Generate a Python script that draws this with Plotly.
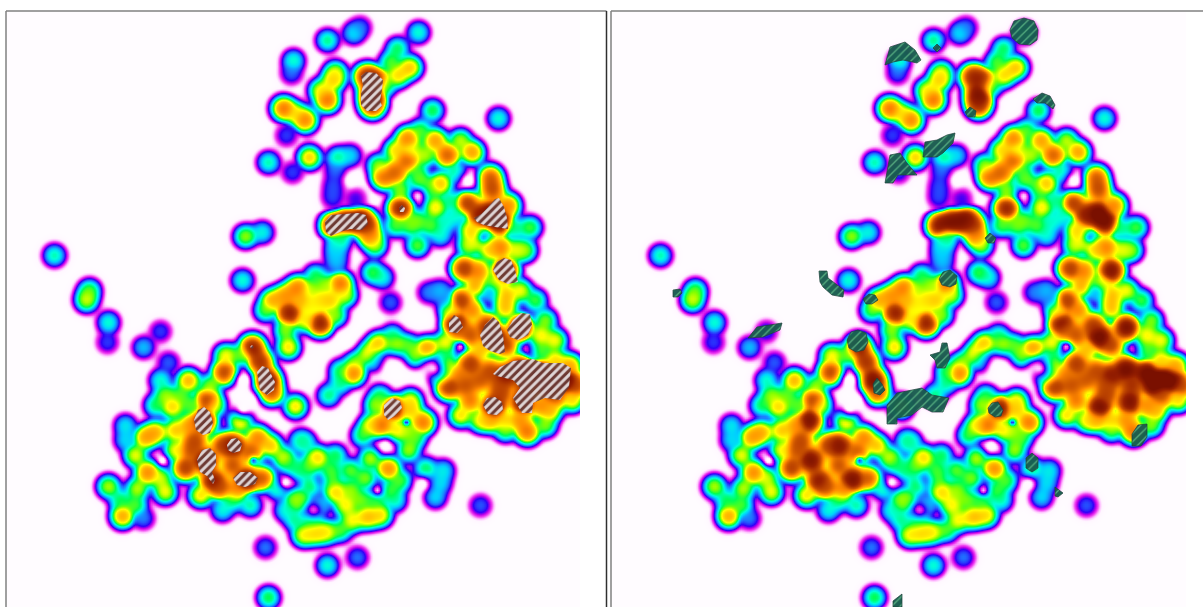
import numpy as np
import plotly.graph_objects as go

# Hot spots: x, y (left-panel pixels) and the colour value at that spot
spots = [
(54,255,1.0),(89,290,1.2),(86,300,1.4),(108,322,.95),(107,342,.5),(143,347,.75),(160,331,.5),
(293,60,.95),(291,73,.55),(327,40,1.05),(353,33,.8),(360,27,.55),(418,32,.95),(397,48,1.1),
(410,67,1.7),(398,75,1.6),(366,76,2.7),(376,80,2.7),(372,95,3.1),(372,105,2.6),
(333,80,1.6),(327,100,2.1),(335,72,1.4),(305,120,2.0),(283,108,2.1),(295,113,1.5),
(286,135,.5),(268,162,1.0),(292,172,.5),(309,157,1.7),(337,157,1.0),(350,155,.8),
(333,185,.5),(335,170,.55),(355,198,.4),(432,110,1.15),(498,118,.95),
(407,138,2.0),(407,160,2.2),(383,177,2.1),(395,172,2.2),(447,155,2.3),(435,140,1.9),(472,152,1.9),
(440,183,1.7),(435,207,1.55),(412,150,1.3),(418,172,1.1),(400,208,2.9),
(333,225,3.0),(345,222,3.1),(358,219,3.1),(366,224,2.6),(370,236,2.0),(375,245,1.3),(340,238,1.0),
(335,253,.7),(372,272,1.15),(382,277,.9),(390,302,.55),(417,245,1.25),(417,220,1.2),(445,222,.9),(456,215,.9),
(530,227,1.2),(515,228,1.0),
(490,177,2.3),(492,190,2.4),(467,203,2.6),(492,213,3.3),(500,222,3.2),(480,215,2.9),(508,205,2.0),(470,230,1.6),
(505,270,3.2),(463,268,2.6),(478,270,2.0),(460,300,2.6),(500,247,2.0),(468,245,1.4),(515,250,1.4),(490,290,1.0),
(440,290,.7),(428,292,.6),(445,300,.55),
(493,337,3.3),(487,325,2.6),(520,327,3.3),(455,323,3.0),(472,310,2.0),(505,308,1.7),(470,363,2.6),(448,387,2.6),
(493,407,3.2),(523,402,3.2),(520,368,3.3),(540,372,3.3),(555,378,3.3),(565,380,3.3),(548,385,3.3),(505,375,2.9),
(527,432,2.1),(470,400,2.1),(500,385,2.3),(480,380,2.3),(550,410,1.7),(505,420,1.6),(460,415,1.6),(555,340,1.5),
(540,350,1.2),(576,385,2.4),(545,320,1.3),(460,375,2.0),(480,350,1.7),
(378,343,1.7),(368,352,1.5),(427,348,1.9),(445,342,1.5),(408,345,1.2),(353,373,2.0),(328,395,1.05),(340,383,1.0),(392,335,1.0),
(393,408,3.0),(381,425,2.1),(423,422,2.1),(410,400,1.5),(362,435,1.15),(405,430,1.3),(408,450,1.35),(425,468,1.1),
(443,470,.85),(435,497,.8),(440,483,.8),
(480,505,.55),(388,468,2.0),(350,470,1.25),(365,478,1.3),(335,492,1.6),(345,505,1.5),(367,517,1.7),(352,520,1.5),(380,515,1.6),
(390,490,1.15),(317,457,1.6),(300,440,.95),(315,533,1.55),(303,535,1.5),(326,532,1.5),(312,520,1.15),(327,565,.95),(357,557,.6),(265,547,.6),
(268,597,1.15),(295,500,1.25),(277,488,1.0),(310,485,1.1),
(295,406,1.6),(288,347,1.6),(289,313,2.9),(297,287,2.0),(272,300,1.8),(242,280,.95),(285,330,1.3),
(320,323,2.9),(340,283,2.1),(330,300,1.6),(310,305,1.4),(345,295,1.4),(300,300,1.7),
(245,236,1.35),(262,232,.9),
(252,347,2.9),(267,380,3.2),(260,362,2.7),(271,392,2.3),(224,372,2.5),(188,380,1.8),(172,407,1.6),
(160,380,.95),(168,362,.55),(125,425,.85),(145,437,1.85),(155,432,1.8),(147,472,2.0),(108,486,1.4),(122,516,1.85),(143,518,.6),
(137,488,1.4),(203,420,3.2),(207,400,2.5),(233,445,3.0),(205,460,3.2),(212,480,2.9),(246,479,3.2),(262,478,2.3),
(185,468,2.6),(222,445,2.5),(257,437,2.0),(283,457,1.4),(220,487,2.3),(232,500,1.0),(222,510,.9),(250,505,1.0),(305,443,.9),(195,440,2.4),(232,465,2.4),
(175,450,1.5),(160,478,1.4),(135,455,1.5),
# plateau readings between the peaks
(190,425,1.9),(175,430,1.7),(190,450,2.3),(240,420,1.8),(270,445,1.7),(250,452,2.3),(235,490,2.0),(200,495,1.6),(165,492,1.5),
(290,465,1.0),(300,470,1.0),(330,470,1.15),(335,455,1.1),(370,458,1.4),(400,480,1.2),(375,500,1.15),(320,505,.8),(295,520,1.0),
(300,500,1.2),(340,530,1.2),(360,500,1.25),(330,480,1.15),(310,465,1.2),(285,510,.9),(395,500,.95),(350,490,1.3),(415,437,1.2),
(420,130,1.2),(425,155,1.35),(430,190,1.15),(450,200,1.0),(455,172,1.0),(400,190,1.3),(420,180,1.2),(395,150,1.6),(460,140,1.4),
(378,165,1.3),(410,225,1.2),(395,225,1.2),(430,225,1.2),(440,235,.9),
(480,240,1.4),(525,250,1.3),(490,250,1.6),(475,285,1.8),(495,285,1.5),(450,310,1.4),(520,290,1.5),(505,295,1.7),(535,300,1.2),
(460,330,2.0),(470,335,2.3),(505,345,2.5),(540,335,1.5),(555,360,1.6),(445,365,1.5),(465,385,2.3),(490,370,2.4),(500,395,2.4),
(525,385,2.7),(555,395,2.3),(540,405,1.9),(490,420,1.7),(520,420,1.9),(545,425,1.3),(440,375,1.3),(480,420,1.5),(505,430,1.2),
(570,365,1.8),(572,400,1.6),
(285,295,1.9),(310,290,1.3),(320,300,1.5),(305,320,1.5),(335,315,1.3),(325,285,1.3),(265,310,1.2),(315,275,1.1),
(240,355,1.2),(225,355,1.5),(210,385,1.3),(190,405,1.2),(180,395,1.2),(215,405,1.3),
(320,90,1.5),(385,85,1.1),(390,62,1.2),
(395,345,1.4),(355,360,1.3),(340,370,1.1),(445,355,1.0),(415,355,1.3),(375,360,1.0),
(375,405,1.3),(380,395,1.1),(410,410,1.6),(395,430,1.5),(370,425,1.5),
(120,500,1.1),(135,505,1.2),(125,440,.8),(155,405,1.1),(165,395,1.3),
(332,197,.5),(336,245,.8),(336,262,.7),
]

# Local minima: x, y, fraction removed, radius
holes = [
(162,460,.92,4),(418,195,.8,5),(350,180,.85,5),(467,180,.9,6),(460,346,.85,4),(377,490,.85,4),(313,510,.75,6),
(528,350,.35,5),(483,237,.5,4),(243,380,1,6),(243,407,1,8),(285,482,.95,5),(253,460,.7,3),(385,445,.9,6),
(406,422,.7,2),(422,483,.9,5),(433,368,.9,8),(390,367,.9,10),(430,170,.25,4),(490,292,.35,6),(320,480,.3,5),
(345,342,.9,8),(250,400,.8,6),
]

# Hatched regions, left panel, in pixels
left_regions = [
[(361,76),(366,72),(376,73),(383,80),(382,90),(380,100),(382,106),(376,111),(367,111),(361,105),(361,94),(363,85)],
[(325,222),(331,215),(345,214),(358,213),(366,215),(368,224),(362,230),(350,229),(340,232),(331,236),(326,232)],
[(399,208),(402,205),(405,208),(404,212),(400,212)],
[(474,218),(481,214),(487,208),(495,199),(499,198),(504,207),(507,218),(508,229),(495,227),(484,225),(477,222)],
[(493,270),(497,262),(504,258),(511,260),(515,270),(518,282),(508,284),(499,280)],
[(449,322),(454,315),(459,318),(463,327),(457,333),(449,332)],
[(480,335),(485,325),(493,317),(499,322),(503,335),(505,352),(500,354),(490,351),(483,346)],
[(507,330),(513,320),(521,313),(530,314),(532,325),(528,335),(518,340),(510,337)],
[(493,374),(500,367),(513,361),(533,359),(543,363),(563,363),(571,368),(569,387),(560,400),(545,398),(533,403),(532,413),(522,413),(513,398),(520,388),(513,380),(497,376)],
[(483,405),(487,398),(495,397),(502,402),(503,410),(497,415),(488,414)],
[(384,405),(392,398),(400,401),(402,408),(395,416),(388,420),(384,415)],
[(194,420),(198,410),(204,407),(210,412),(213,423),(210,433),(203,435),(196,430)],
[(227,445),(231,439),(237,438),(242,444),(240,451),(233,453),(228,450)],
[(197,460),(202,450),(210,448),(216,454),(216,465),(212,472),(215,480),(213,484),(207,476),(200,472)],
[(233,478),(240,472),(250,472),(258,478),(255,484),(245,487),(237,485)],
[(257,372),(262,366),(268,368),(275,382),(274,390),(267,395),(260,390),(258,380)],
[(250,347),(252,345),(254,347),(252,349)],
]

# Hatched regions, right panel, in pixels
right_regions = [
[(885,65),(890,47),(905,42),(915,50),(921,60),(917,63),(903,60),(893,62)],
[(933,48),(937,44),(941,48),(937,52)],
[(1010,30),(1014,21),(1024,18),(1034,21),(1038,30),(1037,40),(1030,45),(1019,44),(1012,38)],
[(1033,99),(1042,93),(1050,96),(1055,105),(1053,109),(1045,103),(1037,103)],
[(965,112),(970,107),(976,111),(975,117),(968,117)],
[(923,157),(925,142),(937,140),(947,135),(955,133),(953,143),(943,153),(937,157)],
[(885,183),(887,170),(890,155),(900,153),(907,163),(917,175),(907,175),(898,175),(893,183)],
[(985,238),(990,233),(996,238),(994,243),(988,243)],
[(939,279),(943,272),(950,270),(957,276),(956,284),(950,287),(942,285)],
[(673,290),(680,289),(682,293),(678,297),(673,297)],
[(819,271),(827,271),(828,278),(844,290),(843,297),(832,295),(823,287),(820,282)],
[(863,299),(869,294),(875,295),(878,300),(872,304),(866,304)],
[(748,338),(757,327),(782,323),(780,330),(763,337)],
[(847,340),(851,332),(858,330),(866,333),(868,342),(864,350),(856,352),(849,348)],
[(873,384),(877,378),(882,384),(885,390),(880,395),(874,393)],
[(930,355),(940,352),(942,343),(947,343),(950,358),(945,368),(937,368),(935,360)],
[(887,424),(887,405),(897,393),(913,390),(922,388),(932,395),(949,398),(943,412),(932,412),(922,407),(912,415),(897,418),(897,424)],
[(988,408),(992,403),(998,402),(1003,410),(1001,416),(995,417),(989,413)],
[(1026,458),(1032,453),(1038,458),(1038,468),(1032,472),(1026,468)],
[(1055,487),(1060,491),(1063,493),(1058,497),(1055,496)],
[(1132,434),(1138,425),(1147,424),(1147,437),(1141,446),(1132,446)],
[(893,601),(902,594),(902,607),(893,607)],
]

color_stops = [
(0,"#fffcff"),(.05,"#fff6ff"),(.1,"#ffc8ff"),(.2,"#f040f0"),(.3,"#c000e8"),(.42,"#3000f8"),(.6,"#2070ff"),
(.8,"#00d0ff"),(.95,"#00ffd8"),(1.15,"#00ff50"),(1.35,"#80ff00"),(1.55,"#ffff00"),(1.8,"#ffc000"),
(2.1,"#ff8800"),(2.5,"#c85000"),(3.0,"#982000"),(3.4,"#7a1000"),
]
ZMAX = 3.4
PANEL_SHIFT = 605.5
VALUE_SIGMA = 5.5
GAIN = 2.0

# Density field: spot values blended into a surface, cut by how well the spots cover each place
xs = np.arange(7, 580, 2.0)
ys = np.arange(12, 609, 2.0)
X, Y = np.meshgrid(xs, ys)
num = np.zeros_like(X)
den = np.full_like(X, 1e-30)
cover = np.zeros_like(X)
for sx, sy, t in spots:
    d2 = (X-sx)**2 + (Y-sy)**2
    k = np.exp(-d2 / (2*VALUE_SIGMA**2)) + 1e-25
    num += t * k
    den += k
    s = 6.3 + .5 * max(t - 1, 0)
    cover += np.exp(-d2 / (2*s**2))
z = (num / den) * (1 - np.exp(-GAIN*cover)) / (1 - np.exp(-GAIN))
for hx, hy, d, r in holes:
    z *= 1 - d * np.exp(-((X-hx)**2 + (Y-hy)**2) / (2*r**2))
z = np.round(z, 3)

scale = [[v/ZMAX, c] for v, c in color_stops]


def outline(regions):
    px, py = [], []
    for r in regions:
        px += [p[0] for p in r] + [r[0][0], None]
        py += [p[1] for p in r] + [r[0][1], None]
    return px, py


fig = go.Figure()
fig.add_trace(go.Heatmap(x=xs, y=ys, z=z, zmin=0, zmax=ZMAX, colorscale=scale, zsmooth="best",
                         showscale=False, hoverinfo="skip", xaxis="x", yaxis="y"))
fig.add_trace(go.Heatmap(x=xs+PANEL_SHIFT, y=ys, z=z, zmin=0, zmax=ZMAX, colorscale=scale, zsmooth="best",
                         showscale=False, hoverinfo="skip", xaxis="x2", yaxis="y2"))
lx, ly = outline(left_regions)
fig.add_trace(go.Scatter(x=lx, y=ly, mode="lines", fill="toself", line=dict(width=0), hoverinfo="skip",
                         fillcolor="rgba(0,0,0,0)",
                         fillpattern=dict(shape="/", size=6, solidity=.5, fgcolor="rgb(222,212,212)",
                                          bgcolor="rgba(105,60,55,0.9)", fillmode="replace"),
                         xaxis="x", yaxis="y", showlegend=False))
rx, ry = outline(right_regions)
fig.add_trace(go.Scatter(x=rx, y=ry, mode="lines", fill="toself", line=dict(width=.7, color="#1c3f3a"), hoverinfo="skip",
                         fillcolor="rgba(0,0,0,0)",
                         fillpattern=dict(shape="/", size=6, solidity=.22, fgcolor="rgba(110,205,145,.7)",
                                          bgcolor="rgba(25,92,78,0.97)", fillmode="replace"),
                         xaxis="x2", yaxis="y2", showlegend=False))

ax = dict(showgrid=False, zeroline=False, showticklabels=False, ticks="", showline=False, fixedrange=True)
W, H = 1203, 607
grey = "#808080"


def rule(x0, y0, x1, y1, col):
    return dict(type="line", xref="paper", yref="paper", x0=x0/W, x1=x1/W, y0=1-y0/H, y1=1-y1/H,
                line=dict(color=col, width=1.5), layer="above")


fig.update_layout(
    width=W, height=H, margin=dict(l=0, r=0, t=0, b=0), paper_bgcolor="white", plot_bgcolor="white",
    showlegend=False,
    xaxis=dict(ax, domain=[7/W, 606/W], range=[7, 606]),
    yaxis=dict(ax, domain=[0, 1-12/H], range=[607, 12]),
    xaxis2=dict(ax, domain=[612/W, 1], range=[612, 1203]),
    yaxis2=dict(ax, domain=[0, 1-12/H], range=[607, 12], anchor="x2"),
    shapes=[rule(6, 11, 606.5, 11, grey), rule(6, 11, 6, 607, grey), rule(606.5, 11, 606.5, 607, "#303030"),
            rule(611, 11, 1203, 11, grey), rule(611, 11, 611, 607, grey)],
)
fig.write_html("out.html", config=dict(displayModeBar=False),
               post_script="document.body.style.margin='0';document.body.style.overflow='hidden';")
